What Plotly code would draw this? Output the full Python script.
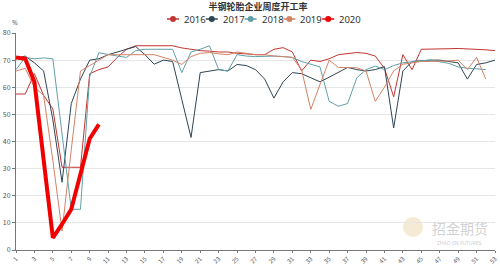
import plotly.graph_objects as go

weeks = list(range(1, 54))
series_names = ["2016", "2017", "2018", "2019", "2020"]
colors = ["#c23531", "#2f4554", "#61a0a8", "#d48265", "#f00000"]

y2016 = [57.5, 57.5, 65, 57, 52, 30.5, 30.5, 30.5, 65, 66.5,
         67.5, 71, 74, 75.3, 75.3, 75.3, 75.3, 75.3, 74.5, 74,
         73.5, 73.3, 73, 73, 72.5, 72.3, 72, 72, 74, 74.6,
         73, 66, 70, 69.5, 70.5, 72, 72.5, 72.8, 72.5, 71.5,
         67, 56.5, 72, 66.5, 74, 74, 74, 74.2, 74.3, 74.2,
         74, 73.8, 73.5]
y2017 = [70.5, 71.5, 69, 66, 48, 25, 54, 63, 70, 70.5,
         72, 73, 74, 75, 72, 68.5, 70, 69.5, 55.5, 41.5,
         65.4, 66, 66.5, 66, 68.4, 68, 66.5, 63, 56, 62,
         65.4, 65, 63.5, 62, 63.7, 65.5, 67.3, 66.5, 66, 66.5,
         67.6, 45, 66, 69.5, 69.8, 70, 70, 69.5, 69, 63,
         68.4, 69, 70]
y2018 = [66.5, 71, 70.5, 70.8, 70.5, 43, 15, 15, 64, 72.7,
         72, 71.5, 71, 73.5, 74, 74, 74, 74, 65.4, 73,
         74, 75.3, 66.5, 66, 72, 71.5, 71.3, 71.5, 71.5, 71.3,
         71, 69.5, 68.5, 67.5, 54.8, 53, 54, 63.5, 66.5, 67.8,
         66.5, 68, 69, 69.5, 69.8, 70, 69.5, 68.8, 67.5, 67,
         66.8, 66.5]
y2019 = [66, 67, 60, 57, 33, 7, 37, 66, 68, 70,
         72, 72, 72, 72, 72, 72, 71, 70, 68.4, 71.3,
         72.5, 72.8, 72.3, 72, 73, 72.5, 72, 72, 71.5, 71.3,
         71, 66.5, 51.8, 61, 70, 67.3, 67.2, 67.2, 66, 54.8,
         60, 66, 68.5, 69, 69.5, 69.5, 69.5, 69.7, 70, 66.5,
         71, 63]
y2020 = [71, 70.5, 62, 33, 4.5, 9.5, 15, 28, 41, 46.3]

values = [y2016, y2017, y2018, y2019, y2020]
widths = [1, 1, 1, 1, 4]

W, H = 500, 264
ML, MR, MT, MB = 16, 5, 33, 14
PW, PH = W - ML - MR, H - MT - MB

def px_x(p):
    return (p - ML) / PW

def px_y(p):
    return 1 + (MT - p) / PH

fig = go.Figure()
for name, ys, c, w in zip(series_names, values, colors, widths):
    fig.add_trace(go.Scatter(x=weeks[:len(ys)], y=ys, mode="lines", name=name,
                             line=dict(color=c, width=w), showlegend=False,
                             hoverinfo="skip"))

shapes = []
annotations = []
# watermark
shapes.append(dict(type="circle", xref="paper", yref="paper",
                   xsizemode="pixel", ysizemode="pixel",
                   xanchor=px_x(413), yanchor=px_y(227),
                   x0=-10, x1=10, y0=-10, y1=10,
                   fillcolor="rgba(225,195,130,0.35)", line=dict(width=0),
                   layer="below"))
annotations.append(dict(text="招金期货", x=px_x(430), y=px_y(228), xref="paper", yref="paper",
                        xanchor="left", yanchor="middle", showarrow=False,
                        font=dict(size=14, color="rgba(150,150,150,0.45)",
                                  family="Noto Sans CJK SC")))
annotations.append(dict(text="ZHAO JIN FUTURES", x=px_x(459), y=px_y(243), xref="paper", yref="paper",
                        xanchor="center", yanchor="middle", showarrow=False,
                        font=dict(size=5, color="rgba(150,150,150,0.5)", family="Noto Sans")))

# legend
for i, (name, c) in enumerate(zip(series_names, colors)):
    cx = 173 + 38.8 * i
    shapes.append(dict(type="line", xref="paper", yref="paper",
                       xsizemode="pixel", ysizemode="pixel",
                       xanchor=px_x(cx), yanchor=px_y(19),
                       x0=-6, x1=6, y0=0, y1=0, line=dict(color=c, width=1.5)))
    shapes.append(dict(type="circle", xref="paper", yref="paper",
                       xsizemode="pixel", ysizemode="pixel",
                       xanchor=px_x(cx), yanchor=px_y(19),
                       x0=-3, x1=3, y0=-3, y1=3, fillcolor=c, line=dict(width=0)))
    annotations.append(dict(text=name, x=px_x(cx + 9), y=px_y(19.5), xref="paper", yref="paper",
                            xanchor="left", yanchor="middle", showarrow=False,
                            font=dict(size=9.5, color="#333", family="Noto Sans")))

annotations.append(dict(text="%", x=px_x(15), y=px_y(23), xref="paper", yref="paper",
                        xanchor="center", yanchor="middle", showarrow=False,
                        font=dict(size=7, color="#666", family="Noto Sans")))

fig.update_layout(
    width=W, height=H, autosize=False,
    margin=dict(l=ML, r=MR, t=MT, b=MB),
    paper_bgcolor="white", plot_bgcolor="white",
    font=dict(family="Noto Sans CJK SC, Noto Sans", color="#555"),
    title=dict(text="半钢轮胎企业周度开工率", x=258 / W, xanchor="center",
               y=1 - 7 / H, yanchor="middle",
               font=dict(size=9, color="#333", family="Noto Sans CJK SC", weight="bold")),
    showlegend=False,
    shapes=shapes,
    annotations=annotations,
    xaxis=dict(range=[1, 53], tickvals=list(range(1, 54, 2)), tickangle=-45,
               showgrid=False, zeroline=False, showline=True, linecolor="#777", linewidth=1,
               ticks="outside", ticklen=2, tickcolor="#777",
               tickfont=dict(size=6, color="#555"), automargin=False, fixedrange=True),
    yaxis=dict(range=[0, 80], dtick=10, showgrid=True, gridcolor="#e6e6e6", gridwidth=1,
               zeroline=False, showline=True, linecolor="#777", linewidth=1,
               ticks="outside", ticklen=3, tickcolor="#777",
               tickfont=dict(size=7, color="#555"), automargin=False, fixedrange=True),
)

fig.write_html("out.html")
